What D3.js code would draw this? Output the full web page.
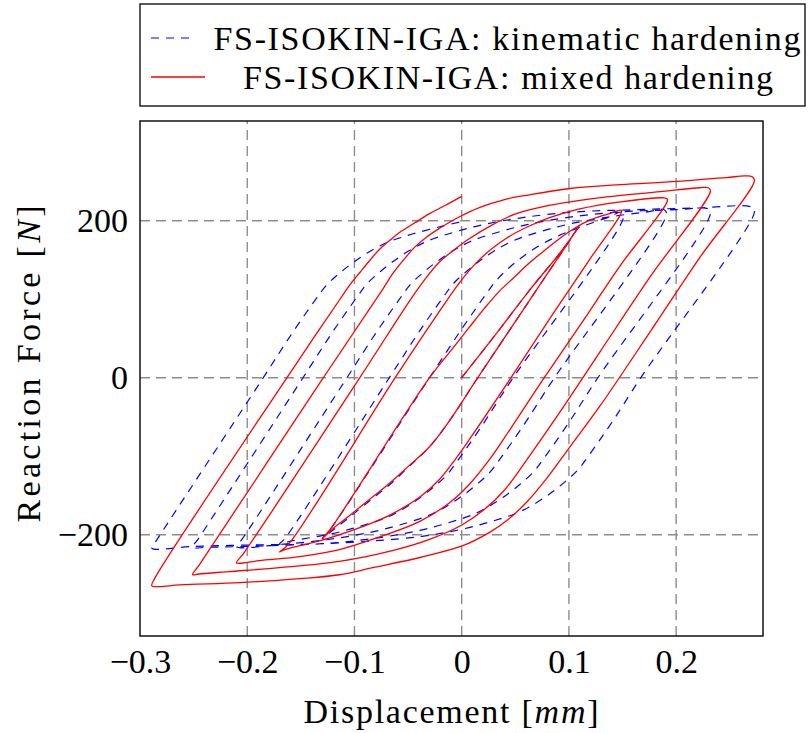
<!DOCTYPE html>
<html>
<head>
<meta charset="utf-8">
<script src="https://cdn.jsdelivr.net/npm/d3@7"></script>
<style>
  body { margin: 0; background: #fff; }
  text { font-family: "Liberation Serif", "Times New Roman", serif; fill: #000; }
</style>
</head>
<body>
<svg id="chart" width="808" height="733"></svg>
<script>
// tick values
var xTicks = [-0.3, -0.2, -0.1, 0, 0.1, 0.2];
var yTicks = [-200, 0, 200];
var seriesNames = ["FS-ISOKIN-IGA: kinematic hardening", "FS-ISOKIN-IGA: mixed hardening"];

// kinematic hardening: displacement [mm], reaction force [N]
var kinematic = [
  [0, 0], [0.035, 61], [0.063, 111], [0.094, 163], [0.110, 194],
  [0.063, 98], [0.015, 0], [-0.011, -54], [-0.030, -88], [-0.049, -113], [-0.067, -136], [-0.086, -157], [-0.105, -178], [-0.119, -193], [-0.130, -205],
  [-0.123, -194], [-0.030, 0], [0.001, 64], [0.023, 107], [0.033, 125], [0.045, 141], [0.057, 154], [0.071, 167], [0.089, 180], [0.113, 193], [0.138, 205], [0.149, 211],
  [0.151, 205], [0.046, -4], [0.018, -63], [-0.004, -106], [-0.014, -124], [-0.026, -139], [-0.038, -152], [-0.052, -165], [-0.070, -178], [-0.094, -189], [-0.122, -199], [-0.159, -208], [-0.170, -212],
  [-0.165, -205], [-0.067, 1], [-0.039, 60], [-0.017, 103], [-0.007, 121], [0.005, 136], [0.017, 149], [0.031, 162], [0.049, 175], [0.073, 186], [0.101, 196], [0.138, 205], [0.172, 211], [0.189, 214],
  [0.191, 208], [0.086, -1], [0.058, -60], [0.036, -103], [0.026, -121], [0.014, -136], [0.002, -149], [-0.012, -162], [-0.030, -175], [-0.054, -186], [-0.082, -196], [-0.119, -205], [-0.166, -212], [-0.210, -215],
  [-0.205, -206], [-0.107, 0], [-0.079, 59], [-0.057, 102], [-0.047, 120], [-0.035, 135], [-0.023, 148], [-0.009, 161], [0.009, 174], [0.033, 185], [0.061, 195], [0.098, 204], [0.145, 211], [0.201, 214], [0.230, 215],
  [0.232, 209], [0.127, 0], [0.099, -59], [0.077, -102], [0.067, -120], [0.055, -135], [0.043, -148], [0.029, -161], [0.011, -174], [-0.013, -185], [-0.041, -195], [-0.078, -204], [-0.125, -211], [-0.181, -214], [-0.237, -216], [-0.251, -216],
  [-0.246, -206], [-0.148, 0], [-0.120, 59], [-0.098, 102], [-0.088, 120], [-0.076, 135], [-0.064, 148], [-0.050, 161], [-0.032, 174], [-0.008, 185], [0.020, 195], [0.057, 204], [0.104, 211], [0.160, 214], [0.216, 216], [0.271, 217],
  [0.273, 211], [0.168, 2], [0.140, -57], [0.118, -100], [0.108, -118], [0.096, -133], [0.084, -146], [0.070, -159], [0.052, -172], [0.028, -183], [0.000, -193], [-0.037, -202], [-0.084, -208], [-0.140, -212], [-0.196, -213], [-0.252, -215], [-0.289, -217],
  [-0.284, -206], [-0.186, -2], [-0.158, 57], [-0.136, 100], [-0.126, 118], [-0.114, 133], [-0.102, 146], [-0.088, 159], [-0.070, 172], [-0.046, 183], [-0.018, 193], [0, 199]
];

// mixed hardening
var mixed = [
  [0, 0], [0.035, 61], [0.063, 111], [0.094, 163], [0.110, 194],
  [0.063, 98], [0.015, 0], [-0.011, -54], [-0.030, -88], [-0.049, -112], [-0.067, -134], [-0.086, -155], [-0.105, -176], [-0.119, -191], [-0.130, -205],
  [-0.123, -194], [-0.030, 0], [-0.008, 38], [0.007, 64], [0.021, 88], [0.035, 110], [0.049, 128], [0.063, 146], [0.078, 163], [0.092, 178], [0.106, 191], [0.120, 201], [0.138, 209], [0.149, 213],
  [0.120, 152], [0.082, 75], [0.046, 0], [0.007, -79], [-0.006, -104], [-0.021, -130], [-0.039, -152], [-0.067, -175], [-0.095, -191], [-0.123, -204], [-0.151, -214], [-0.165, -219], [-0.170, -222],
  [-0.162, -213], [-0.062, 0], [-0.016, 94], [-0.002, 121], [0.012, 144], [0.026, 162], [0.042, 178], [0.061, 192], [0.082, 204], [0.110, 215], [0.148, 224], [0.189, 229],
  [0.192, 227], [0.148, 143], [0.110, 66], [0.077, 0], [0.045, -66], [0.026, -104], [0.007, -136], [-0.011, -159], [-0.039, -183], [-0.077, -203], [-0.114, -219], [-0.151, -228], [-0.189, -233], [-0.204, -236], [-0.210, -236],
  [-0.203, -223], [-0.095, 0], [-0.049, 97], [-0.035, 124], [-0.021, 147], [-0.007, 163], [0.007, 177], [0.029, 195], [0.049, 208], [0.073, 217], [0.122, 228], [0.185, 237], [0.222, 242], [0.230, 242],
  [0.232, 238], [0.176, 129], [0.129, 33], [0.092, -43], [0.061, -104], [0.040, -143], [0.021, -168], [0.001, -187], [-0.030, -206], [-0.061, -219], [-0.114, -234], [-0.170, -242], [-0.217, -247], [-0.245, -250], [-0.251, -251],
  [-0.245, -239], [-0.129, 0], [-0.074, 112], [-0.063, 135], [-0.053, 152], [-0.044, 166], [-0.032, 180], [-0.021, 190], [-0.002, 205], [0.017, 217], [0.040, 227], [0.063, 233], [0.101, 241], [0.148, 246], [0.201, 250], [0.247, 255], [0.264, 257], [0.271, 256],
  [0.273, 251], [0.222, 153], [0.176, 59], [0.129, -36], [0.101, -88], [0.080, -127], [0.061, -158], [0.043, -181], [0.026, -197], [0.001, -214], [-0.039, -229], [-0.083, -242], [-0.114, -251], [-0.151, -256], [-0.207, -261], [-0.263, -264], [-0.282, -266], [-0.289, -265],
  [-0.286, -255], [-0.161, 4], [-0.133, 61], [-0.114, 99], [-0.105, 117], [-0.095, 134], [-0.086, 149], [-0.077, 163], [-0.067, 175], [-0.058, 185], [-0.044, 197], [-0.030, 209], [-0.016, 219], [0, 231]
];

var svg = d3.select("#chart");

var x = d3.scaleLinear().domain([-0.3, 0.281]).range([140, 763]);
var y = d3.scaleLinear().domain([-329, 327]).range([636, 121]);

var gridColor = "#8c8c8c";
var fontSize = "34px";

// grid lines
svg.append("g").selectAll("line")
  .data(xTicks.filter(d => d > -0.3))
  .enter().append("line")
  .attr("x1", d => x(d)).attr("x2", d => x(d))
  .attr("y1", y.range()[0]).attr("y2", y.range()[1])
  .attr("stroke", gridColor).attr("stroke-width", 1.4)
  .attr("stroke-dasharray", "10,6");

svg.append("g").selectAll("line")
  .data(yTicks)
  .enter().append("line")
  .attr("x1", x.range()[0]).attr("x2", x.range()[1])
  .attr("y1", d => y(d)).attr("y2", d => y(d))
  .attr("stroke", gridColor).attr("stroke-width", 1.4)
  .attr("stroke-dasharray", "10,6");

// clip to the plot box
svg.append("clipPath").attr("id", "plotclip")
  .append("rect")
  .attr("x", 140).attr("y", 121).attr("width", 623).attr("height", 515);

var line = d3.line()
  .x(d => x(d[0]))
  .y(d => y(d[1]))
  .curve(d3.curveCatmullRom.alpha(0.5));

var curves = svg.append("g").attr("clip-path", "url(#plotclip)");

curves.append("path")
  .datum(kinematic)
  .attr("d", line)
  .attr("fill", "none")
  .attr("stroke", "#0000ff")
  .attr("stroke-width", 1.2)
  .attr("stroke-dasharray", "8,7");

curves.append("path")
  .datum(mixed)
  .attr("d", line)
  .attr("fill", "none")
  .attr("stroke", "#ff0000")
  .attr("stroke-width", 1.3);

// axes (labels only, frame drawn separately)
var xAxis = d3.axisBottom(x)
  .tickValues(xTicks)
  .tickSize(0)
  .tickPadding(13)
  .tickFormat(d => d === 0 ? "0" : d3.format(".1f")(d));

var yAxis = d3.axisLeft(y)
  .tickValues(yTicks)
  .tickSize(0)
  .tickPadding(12)
  .tickFormat(d3.format("d"));

var gx = svg.append("g").attr("transform", "translate(0,636)").call(xAxis);
var gy = svg.append("g").attr("transform", "translate(140,0)").call(yAxis);
[gx, gy].forEach(function (g) {
  g.select(".domain").remove();
  g.selectAll("text")
    .style("font-family", "'Liberation Serif', serif")
    .style("font-size", fontSize)
    .attr("fill", "#000");
});

// frame
svg.append("rect")
  .attr("x", 140).attr("y", 121).attr("width", 623).attr("height", 515)
  .attr("fill", "none").attr("stroke", "#000").attr("stroke-width", 1.4);

// axis titles
var xt = svg.append("text")
  .attr("x", 451).attr("y", 723)
  .attr("text-anchor", "middle")
  .style("font-size", fontSize)
  .attr("textLength", 295).attr("lengthAdjust", "spacing");
xt.append("tspan").text("Displacement [");
xt.append("tspan").attr("font-style", "italic").text("mm");
xt.append("tspan").text("]");

var yt = svg.append("text")
  .attr("transform", "translate(40,364) rotate(-90)")
  .attr("text-anchor", "middle")
  .style("font-size", fontSize)
  .attr("textLength", 317).attr("lengthAdjust", "spacing");
yt.append("tspan").text("Reaction Force [");
yt.append("tspan").attr("font-style", "italic").text("N");
yt.append("tspan").text("]");

// legend
var legend = svg.append("g");
legend.append("rect")
  .attr("x", 140).attr("y", 4).attr("width", 665).attr("height", 102)
  .attr("fill", "#fff").attr("stroke", "#000").attr("stroke-width", 1.3);

legend.append("line")
  .attr("x1", 151).attr("x2", 190).attr("y1", 38).attr("y2", 38)
  .attr("stroke", "#0000ff").attr("stroke-width", 1.2)
  .attr("stroke-dasharray", "8,7");
legend.append("line")
  .attr("x1", 151).attr("x2", 205).attr("y1", 77).attr("y2", 77)
  .attr("stroke", "#ff0000").attr("stroke-width", 1.3);

legend.append("text")
  .attr("x", 507).attr("y", 50)
  .attr("text-anchor", "middle")
  .style("font-size", fontSize)
  .attr("textLength", 587).attr("lengthAdjust", "spacing")
  .text(seriesNames[0]);
legend.append("text")
  .attr("x", 508).attr("y", 89)
  .attr("text-anchor", "middle")
  .style("font-size", fontSize)
  .attr("textLength", 530).attr("lengthAdjust", "spacing")
  .text(seriesNames[1]);
</script>
</body>
</html>
